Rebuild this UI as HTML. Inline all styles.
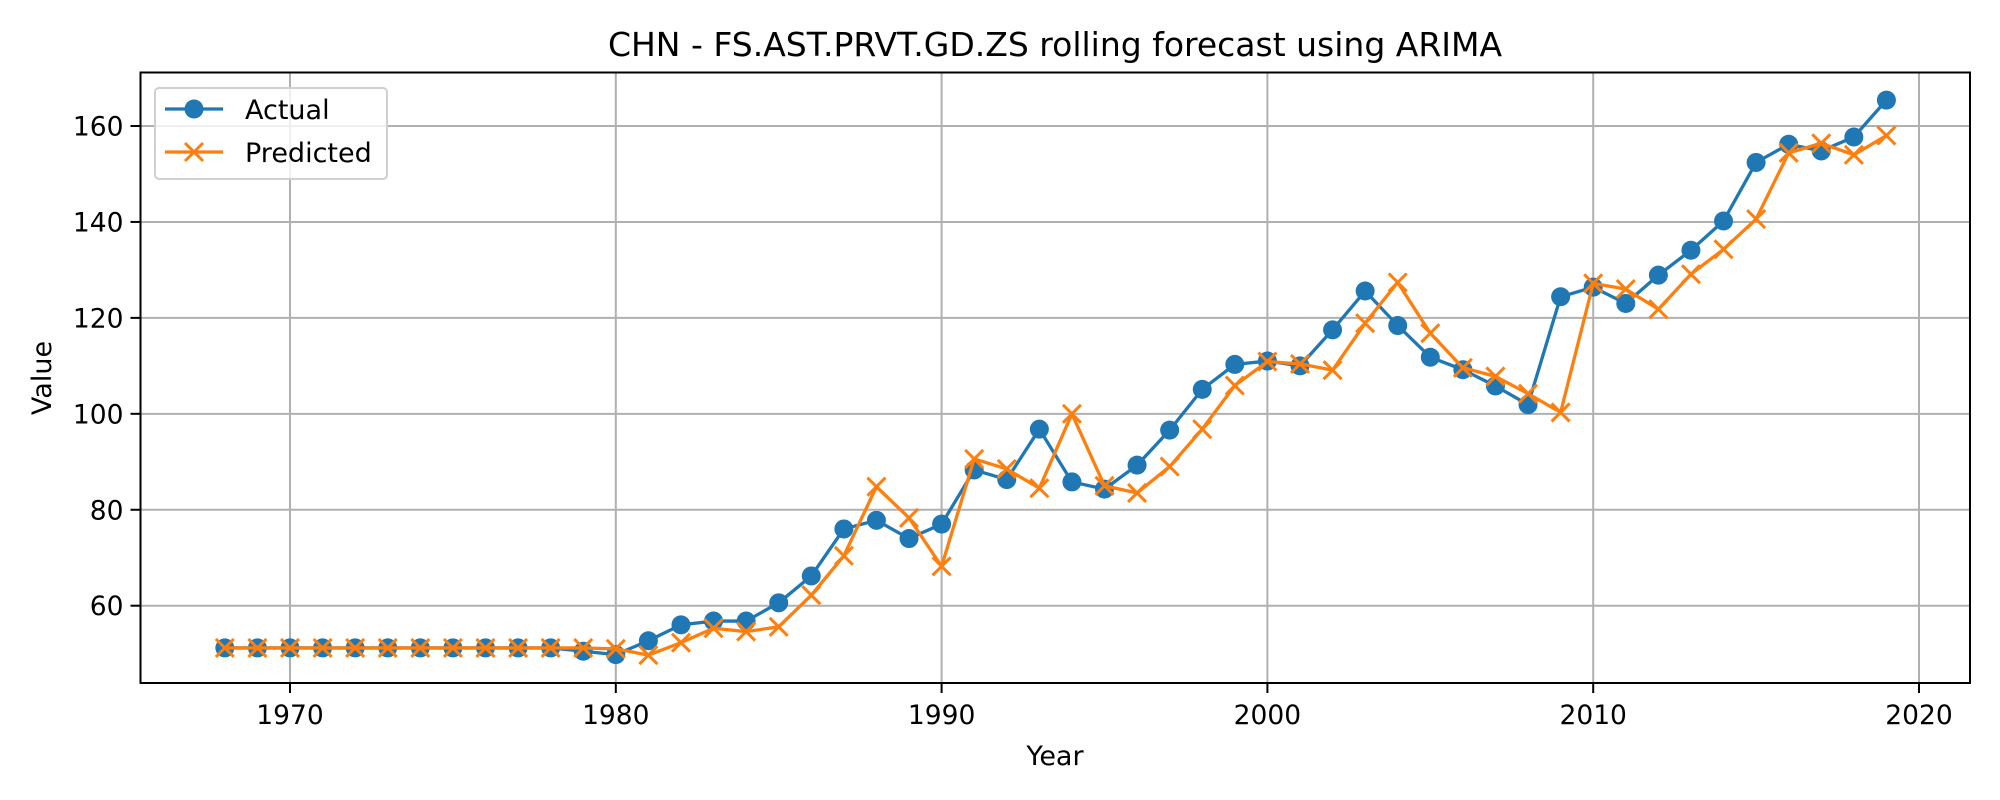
<!DOCTYPE html>
<html><head><meta charset="utf-8"><style>
body{margin:0;background:#fff;}
svg{display:block;font-family:"DejaVu Sans","Liberation Sans",sans-serif;}
</style></head><body>
<svg id="chart" width="2000" height="800" viewBox="0 0 2000 800">
<rect width="2000" height="800" fill="#fff"/>
<g id="grid"></g>
<g id="series"></g>
<rect x="140.5" y="72.5" width="1829.5" height="610.5" fill="none" stroke="#000" stroke-width="2"/>
<g id="ticks"></g>
<text x="1055" y="56" font-size="33" text-anchor="middle">CHN - FS.AST.PRVT.GD.ZS rolling forecast using ARIMA</text>
<text x="1055" y="765" font-size="27" text-anchor="middle">Year</text>
<text x="51" y="378" font-size="27" text-anchor="middle" transform="rotate(-90 51 378)">Value</text>
<g>
<rect x="155" y="88" width="232" height="91" rx="4" fill="#fff" fill-opacity="0.8" stroke="#d0d0d0" stroke-width="2"/>
<g>
<line x1="165" y1="109" x2="223" y2="109" stroke="#1f77b4" stroke-width="3.3"/>
<circle cx="194" cy="109" r="9.5" fill="#1f77b4"/>
<text x="245" y="119" font-size="27">Actual</text>
</g>
<g>
<line x1="165" y1="152" x2="223" y2="152" stroke="#ff7f0e" stroke-width="3.3"/>
<path d="M185 143 L203 161 M203 143 L185 161" stroke="#ff7f0e" stroke-width="3"/>
<text x="245" y="162" font-size="27">Predicted</text>
</g>
</g>
</svg>
<script>
const years = [1968,1969,1970,1971,1972,1973,1974,1975,1976,1977,1978,1979,1980,1981,1982,1983,1984,1985,1986,1987,1988,1989,1990,1991,1992,1993,1994,1995,1996,1997,1998,1999,2000,2001,2002,2003,2004,2005,2006,2007,2008,2009,2010,2011,2012,2013,2014,2015,2016,2017,2018,2019];
const actual = [51.2,51.2,51.2,51.2,51.2,51.2,51.2,51.2,51.2,51.2,51.2,50.5,49.8,52.7,56,56.8,56.8,60.6,66.2,76,77.8,74,77,88.3,86.3,96.8,85.8,84.3,89.3,96.6,105.1,110.3,111,110,117.5,125.6,118.4,111.8,109.2,105.8,101.9,124.4,126.4,123,128.9,134.1,140.2,152.4,156.2,154.8,157.7,165.4];
const predicted = [51.2,51.2,51.2,51.2,51.2,51.2,51.2,51.2,51.2,51.2,51.2,51.2,51,49.7,52.3,55.3,54.6,55.6,62.2,70.4,84.8,78.3,68.2,90.6,88.5,84.5,100,85,83.5,89,96.8,105.9,110.9,110.4,109.1,118.9,127.4,116.8,109.6,107.8,104.2,100.3,127.2,126,121.8,129.1,134.3,140.6,154.4,156.4,154,158];
const xTicks = [1970,1980,1990,2000,2010,2020];
const yTicks = [60,80,100,120,140,160];

const NS = "http://www.w3.org/2000/svg";
const X = v => 290 + (v - 1970) * 32.58;
const Y = v => 126 + (160 - v) * 4.797;
const L = 140.5, R = 1970, T = 72.5, B = 683;
function mk(tag, attrs, parent){const e=document.createElementNS(NS,tag);for(const k in attrs)e.setAttribute(k,attrs[k]);parent.appendChild(e);return e;}
const grid=document.getElementById('grid'), ticks=document.getElementById('ticks'), ser=document.getElementById('series');
xTicks.forEach(t=>{
  const g=mk('line',{x1:X(t),x2:X(t),y1:T,y2:B,stroke:'#b0b0b0','stroke-width':2},grid);
  
  
  const tk=mk('line',{x1:X(t),x2:X(t),y1:B,y2:B+10,stroke:'#000','stroke-width':2},ticks);
  
  
  const tx=mk('text',{x:X(t),y:724,'font-size':26.5,'text-anchor':'middle'},ticks);
  tx.textContent=t;
  
  
});
yTicks.forEach(t=>{
  const g=mk('line',{x1:L,x2:R,y1:Y(t),y2:Y(t),stroke:'#b0b0b0','stroke-width':2},grid);
  
  
  const tk=mk('line',{x1:L-10,x2:L,y1:Y(t),y2:Y(t),stroke:'#000','stroke-width':2},ticks);
  
  
  const tx=mk('text',{x:L-17,y:Y(t)+9.5,'font-size':26.5,'text-anchor':'end'},ticks);
  tx.textContent=t;
  
  
});
const pa=mk('polyline',{points:years.map((y,i)=>X(y)+','+Y(actual[i])).join(' '),fill:'none',stroke:'#1f77b4','stroke-width':3.3,'stroke-linejoin':'round'},ser);


years.forEach((y,i)=>{
  const c=mk('circle',{cx:X(y),cy:Y(actual[i]),r:9.5,fill:'#1f77b4'},ser);
  
  
});
const pp=mk('polyline',{points:years.map((y,i)=>X(y)+','+Y(predicted[i])).join(' '),fill:'none',stroke:'#ff7f0e','stroke-width':3.3,'stroke-linejoin':'round'},ser);


years.forEach((y,i)=>{
  const cx=X(y), cy=Y(predicted[i]);
  const m=mk('path',{d:`M${cx-9} ${cy-9} L${cx+9} ${cy+9} M${cx+9} ${cy-9} L${cx-9} ${cy+9}`,stroke:'#ff7f0e','stroke-width':3},ser);
  
  
});
</script>
</body></html>
